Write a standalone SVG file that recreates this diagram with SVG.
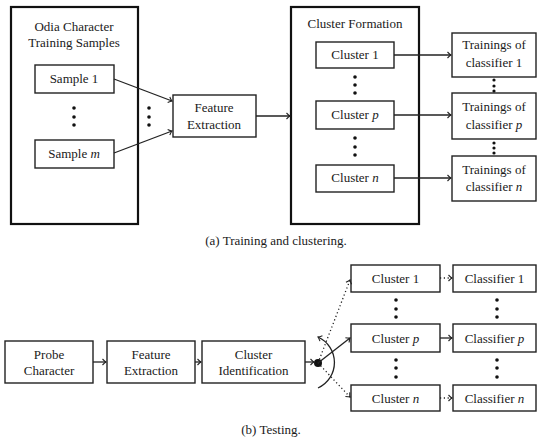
<svg xmlns="http://www.w3.org/2000/svg" width="537" height="443" viewBox="0 0 537 443">
<defs>
<marker id="arr" viewBox="-5 -4 6 8" markerWidth="6" markerHeight="8" refX="0" refY="0" orient="auto-start-reverse" markerUnits="userSpaceOnUse">
<path d="M -3.5 -3 Q -1.2 -0.6 0 0 Q -1.2 0.6 -3.5 3" fill="none" stroke="#222" stroke-width="1.1"/>
</marker>
<style>
text{font-family:"Liberation Serif","Times New Roman",serif;font-size:13px;fill:#1a1a1a;text-anchor:middle}
.i{font-style:italic}
.box{fill:#fff;stroke:#222;stroke-width:1.4}
.big{fill:none;stroke:#111;stroke-width:2.2}
.ln{fill:none;stroke:#222;stroke-width:1.3}
.dt{fill:none;stroke:#222;stroke-width:1.3;stroke-dasharray:1.2 2.6}
.dot{fill:#111}
</style>
</defs>
<rect width="537" height="443" fill="#fff"/>

<!-- (a) Training -->
<g id="odia-samples">
<rect class="big" x="11" y="7" width="127" height="217"/>
<text x="74" y="31">Odia Character</text>
<text x="74" y="47">Training Samples</text>
<circle class="dot" cx="74" cy="108" r="1.8"/><circle class="dot" cx="74" cy="117" r="1.8"/><circle class="dot" cx="74" cy="125" r="1.8"/>
</g>
<g id="sample-1"><rect class="box" x="35" y="65" width="79" height="28"/><text x="74" y="83">Sample 1</text></g>
<g id="sample-m"><rect class="box" x="35" y="140" width="79" height="28"/><text x="74" y="158">Sample <tspan class="i">m</tspan></text></g>
<g id="dots-a"><circle class="dot" cx="149" cy="108" r="1.8"/><circle class="dot" cx="149" cy="117" r="1.8"/><circle class="dot" cx="149" cy="125" r="1.8"/></g>
<g id="feature-extraction-a"><rect class="box" x="173" y="95" width="83" height="42"/><text x="214" y="112">Feature</text><text x="214" y="129">Extraction</text></g>
<g id="cluster-formation">
<rect class="big" x="291" y="7" width="128" height="217"/>
<text x="355" y="28">Cluster Formation</text>
<circle class="dot" cx="355" cy="77" r="1.8"/><circle class="dot" cx="355" cy="85" r="1.8"/><circle class="dot" cx="355" cy="93" r="1.8"/>
<circle class="dot" cx="355" cy="138" r="1.8"/><circle class="dot" cx="355" cy="147" r="1.8"/><circle class="dot" cx="355" cy="155" r="1.8"/>
</g>
<g id="cluster-1-a"><rect class="box" x="316" y="42" width="78" height="26"/><text x="355" y="59">Cluster 1</text></g>
<g id="cluster-p-a"><rect class="box" x="316" y="101" width="78" height="28"/><text x="355" y="119">Cluster <tspan class="i">p</tspan></text></g>
<g id="cluster-n-a"><rect class="box" x="316" y="165" width="78" height="27"/><text x="355" y="182">Cluster <tspan class="i">n</tspan></text></g>
<g id="train-1"><rect class="box" x="452" y="33" width="84" height="44"/><text x="494" y="49">Trainings of</text><text x="494" y="67">classifier 1</text></g>
<g id="train-p"><rect class="box" x="452" y="93" width="84" height="46"/><text x="494" y="111">Trainings of</text><text x="494" y="129">classifier <tspan class="i">p</tspan></text></g>
<g id="train-n"><rect class="box" x="452" y="156" width="84" height="45"/><text x="494" y="174">Trainings of</text><text x="494" y="191">classifier <tspan class="i">n</tspan></text></g>
<g id="train-dots">
<circle class="dot" cx="494" cy="80" r="1.6"/><circle class="dot" cx="494" cy="86" r="1.6"/><circle class="dot" cx="494" cy="91" r="1.6"/>
<circle class="dot" cx="494" cy="143" r="1.6"/><circle class="dot" cx="494" cy="148" r="1.6"/><circle class="dot" cx="494" cy="153" r="1.6"/>
</g>
<text id="caption-a" x="276" y="245">(a) Training and clustering.</text>

<!-- (b) Testing -->
<g id="probe"><rect class="box" x="5" y="341" width="88" height="42"/><text x="49" y="359">Probe</text><text x="49" y="375">Character</text></g>
<g id="feature-extraction-b"><rect class="box" x="107" y="341" width="88" height="42"/><text x="151" y="359">Feature</text><text x="151" y="375">Extraction</text></g>
<g id="cluster-identification"><rect class="box" x="202" y="341" width="103" height="42"/><text x="253.5" y="359">Cluster</text><text x="253.5" y="375">Identification</text></g>
<g id="switch"><circle class="dot" cx="318" cy="363" r="4"/></g>
<g id="cluster-1-b"><rect class="box" x="351" y="265" width="89" height="27"/><text x="395.5" y="283">Cluster 1</text></g>
<g id="cluster-p-b"><rect class="box" x="351" y="324" width="89" height="28"/><text x="395.5" y="343">Cluster <tspan class="i">p</tspan></text></g>
<g id="cluster-n-b"><rect class="box" x="351" y="385" width="89" height="26"/><text x="395.5" y="403">Cluster <tspan class="i">n</tspan></text></g>
<g id="classifier-1"><rect class="box" x="453" y="265" width="83" height="27"/><text x="494.5" y="283">Classifier 1</text></g>
<g id="classifier-p"><rect class="box" x="453" y="324" width="83" height="28"/><text x="494.5" y="343">Classifier <tspan class="i">p</tspan></text></g>
<g id="classifier-n"><rect class="box" x="453" y="385" width="83" height="26"/><text x="494.5" y="403">Classifier <tspan class="i">n</tspan></text></g>
<g id="dots-b">
<circle class="dot" cx="396" cy="300" r="1.8"/><circle class="dot" cx="396" cy="309" r="1.8"/><circle class="dot" cx="396" cy="317" r="1.8"/>
<circle class="dot" cx="396" cy="360" r="1.8"/><circle class="dot" cx="396" cy="368" r="1.8"/><circle class="dot" cx="396" cy="377" r="1.8"/>
<circle class="dot" cx="497" cy="300" r="1.8"/><circle class="dot" cx="497" cy="309" r="1.8"/><circle class="dot" cx="497" cy="317" r="1.8"/>
<circle class="dot" cx="497" cy="360" r="1.8"/><circle class="dot" cx="497" cy="368" r="1.8"/><circle class="dot" cx="497" cy="377" r="1.8"/>
</g>
<text id="caption-b" x="271" y="434">(b) Testing.</text>

<g id="connectors">
<line class="ln" x1="114" y1="79" x2="172" y2="101" marker-end="url(#arr)"/>
<line class="ln" x1="114" y1="153" x2="172" y2="131" marker-end="url(#arr)"/>
<line class="ln" x1="256" y1="116" x2="290" y2="116" marker-end="url(#arr)"/>
<line class="ln" x1="394" y1="55" x2="451" y2="55" marker-end="url(#arr)"/>
<line class="ln" x1="394" y1="115" x2="451" y2="115" marker-end="url(#arr)"/>
<line class="ln" x1="394" y1="178" x2="451" y2="178" marker-end="url(#arr)"/>
<line class="ln" x1="93" y1="362" x2="106" y2="362" marker-end="url(#arr)"/>
<line class="ln" x1="195" y1="362" x2="201" y2="362" marker-end="url(#arr)"/>
<line class="ln" x1="305" y1="362" x2="314" y2="362" marker-end="url(#arr)"/>
<line class="ln" x1="318" y1="363" x2="350" y2="338" marker-end="url(#arr)"/>
<line class="dt" x1="318" y1="363" x2="350" y2="280" marker-end="url(#arr)"/>
<line class="dt" x1="318" y1="363" x2="350" y2="397" marker-end="url(#arr)"/>
<path class="ln" d="M 318 337 A 28 28 0 0 1 318 388" marker-start="url(#arr)"/>
<line class="dt" x1="440" y1="278" x2="452" y2="278" marker-end="url(#arr)"/>
<line class="ln" x1="440" y1="338" x2="452" y2="338" marker-end="url(#arr)"/>
<line class="dt" x1="440" y1="398" x2="452" y2="398" marker-end="url(#arr)"/>
</g>
</svg>
